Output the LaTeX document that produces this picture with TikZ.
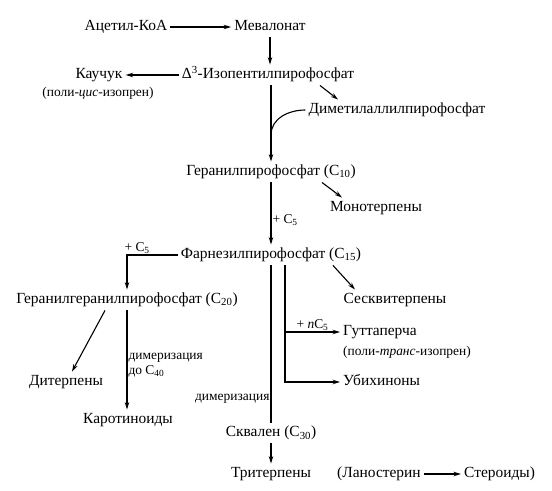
\documentclass[tikz,border=0pt]{standalone}
\usepackage{fontspec}
\setmainfont{Liberation Serif}
\usetikzlibrary{positioning,arrows.meta}

\tikzset{
  cmpd/.style={inner sep=3bp, text height=11bp, text depth=3.5bp,
    font=\fontsize{15.5}{17}\selectfont},
  note/.style={inner sep=1pt, font=\fontsize{13.5}{15}\selectfont},
  rxn/.style={-{Stealth[length=7.5bp,width=4.5bp]}, line width=1.1bp},
  link/.style={line width=1.1bp},
}

\begin{document}
\begin{tikzpicture}[x=1bp, y=-1bp]
  \useasboundingbox (0,0) rectangle (552,491);
  % mevalonate route
  \node[cmpd] (acoa) at (126,27) {Ацетил-КоА};
  \node[cmpd] (meval) at (270,27) {Мевалонат};
  \node[cmpd] (ipp) at (268,75) {Δ\textsuperscript{3}-Изопентилпирофосфат};
  \node[cmpd] (kauch) at (99,75) {Каучук};
  \node[note] (cis) at (98,93) {(поли-\textit{цис}-изопрен)};
  \node[cmpd] (dmapp) at (397,110) {Диметилаллилпирофосфат};
  \node[cmpd] (gpp) at (271,172) {Геранилпирофосфат (C\textsubscript{10})};
  \node[cmpd] (mono) at (376,208) {Монотерпены};
  \node[cmpd] (fpp) at (271,255) {Фарнезилпирофосфат (C\textsubscript{15})};
  \node[cmpd] (sesq) at (395,300) {Сесквитерпены};
  \node[cmpd] (ggpp) at (127,300) {Геранилгеранилпирофосфат (C\textsubscript{20})};
  \node[cmpd] (diterp) at (66,382) {Дитерпены};
  \node[cmpd] (carot) at (128,420) {Каротиноиды};
  \node[cmpd, anchor=west] (gutta) at (340,332) {Гуттаперча};
  \node[note, anchor=west] (trans) at (342,352) {(поли-\textit{транс}-изопрен)};
  \node[cmpd, anchor=west] (ubiq) at (340,382) {Убихиноны};
  \node[cmpd] (squal) at (271,433) {Сквален (C\textsubscript{30})};
  \node[cmpd] (triterp) at (271,474) {Тритерпены};
  \node[cmpd, anchor=west] (lano) at (334,474) {(Ланостерин};
  \node[cmpd, right=37bp of lano] (ster) {Стероиды)};

  \coordinate (join) at (271,135);
  \coordinate (br) at ([xshift=14bp]fpp.south);

  \draw[rxn] (acoa) -- (meval);
  \draw[rxn] (meval.south) -- (meval.south |- ipp.north);
  \draw[rxn] (ipp) -- (kauch);
  \draw[rxn] ([xshift=52bp]ipp.south) -- ([xshift=-59bp]dmapp.north);
  \draw[rxn] (gpp.north |- ipp.south) -- (gpp.north);
  \draw[link] (dmapp.west) to[out=180, in=90] (join);
  \draw[rxn] ([xshift=51bp]gpp.south) -- ([xshift=-34bp]mono.north);
  \draw[rxn] (gpp) -- node[right, note, pos=0.6] {+ C\textsubscript{5}} (fpp);
  \draw[rxn] (fpp.west) -| node[above, note, pos=0.4] {+ C\textsubscript{5}} (ggpp.north);
  \draw[rxn] ([xshift=62bp]fpp.south) -- ([xshift=-40bp]sesq.north);
  \draw[rxn] ([xshift=-22bp]ggpp.south) -- ([xshift=6bp]diterp.north);
  \draw[rxn] (ggpp.south) -- node[right, note, align=left, pos=0.55]
    {димеризация\\до C\textsubscript{40}} (ggpp.south |- carot.north);
  \draw[link] (fpp) -- node[left, note, pos=0.85] {димеризация} (squal);
  \draw[rxn] (br) |- (ubiq.west);
  \draw[rxn] (br |- gutta.west) -- node[above, note] {+ \textit{n}C\textsubscript{5}} (gutta.west);
  \draw[rxn] (squal) -- (triterp);
  \draw[rxn] (lano) -- (ster);
\end{tikzpicture}
\end{document}
